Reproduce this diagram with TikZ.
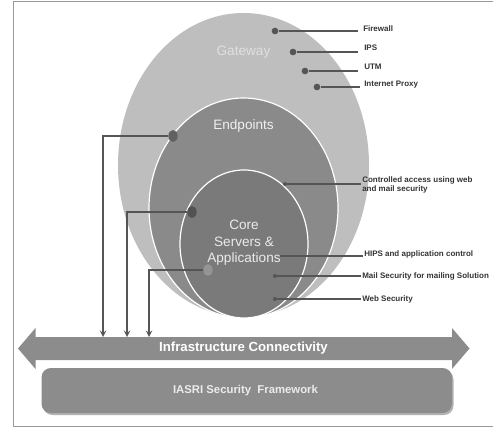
\documentclass[tikz,border=0pt]{standalone}
\usepackage{fontspec}
\setmainfont{Liberation Sans}
\usetikzlibrary{arrows,shapes.geometric}

\definecolor{gwfill}{RGB}{190,190,190}
\definecolor{epfill}{RGB}{138,138,138}
\definecolor{corefill}{RGB}{122,122,122}
\definecolor{barfill}{RGB}{140,140,140}
\definecolor{leader}{RGB}{85,85,85}

\tikzset{
  dot/.style={circle,fill=leader,inner sep=0pt,minimum size=5pt},
  bigdot/.style={ellipse,fill=leader,inner sep=0pt,minimum width=7pt,minimum height=9pt},
  tag/.style={anchor=west,inner sep=0.75pt,font=\fontsize{6}{7}\selectfont\bfseries,text=black!80,align=left},
  leadline/.style={draw=leader,line width=1.1pt},
  drop/.style={draw=leader,line width=1.1pt,-stealth},
  ringtext/.style={inner sep=0.75pt,align=center,font=\fontsize{10.2}{12.4}\selectfont}
}

\begin{document}
\begin{tikzpicture}[x=0.75pt,y=0.75pt,yscale=-1,xscale=1]
\useasboundingbox (0,0) rectangle (493,428);

%Shape: Frame
\begin{scope}
\clip (0,0) rectangle (493,428);
\draw [draw=black!40,line width=1pt] (13.5,1.5) rectangle (500,426.5);
\end{scope}

%Shape: Ellipse Gateway
\draw [fill=gwfill,draw=none] (243.5,165) ellipse (125.5 and 152);
%Shape: Ellipse Endpoints
\draw [fill=epfill,draw=white,line width=0.9pt] (243.5,208) ellipse (94.5 and 110);
%Shape: Ellipse Core
\draw [fill=corefill,draw=white,line width=0.9pt] (244,244) ellipse (64 and 74);

% Text Node
\node [ringtext,text=black!12] (gateway) at (243.5,52) {Gateway};
% Text Node
\node [ringtext,text=black!6] (endpoints) at (243.5,126) {Endpoints};
% Text Node
\node [ringtext,text=black!8] (core) at (244,243) {Core\\Servers \&\\Applications};

%Shape: Double Arrow
\draw [fill=barfill,draw=none] (18,348.5) -- (35.5,328) -- (35.5,337) -- (452,337) -- (452,328) -- (469.5,348.5) -- (452,369) -- (452,360) -- (35.5,360) -- (35.5,369) -- cycle;
% Text Node
\node [inner sep=0.75pt,text=white,font=\fontsize{9.9}{12}\selectfont\bfseries] (infra) at (243.5,348.5) {Infrastructure Connectivity};

%Shape: Rounded Box
\draw [fill=black!30,draw=none,rounded corners=7pt] (43,370) rectangle (453.5,415);
\draw [fill=barfill,draw=none,rounded corners=7pt] (41.5,368) rectangle (452,413);
% Text Node
\node [inner sep=0.75pt,text=black!8,font=\fontsize{8.5}{10}\selectfont\bfseries] (iasri) at (245.5,390.5) {IASRI Security\ \ Framework};

% Leader dots (right)
\node [dot] (dFire) at (275,31) {};
\node [dot] (dIps) at (293,52) {};
\node [dot] (dUtm) at (305,71) {};
\node [dot] (dProxy) at (317,87) {};
\node [dot,minimum size=3pt] (dCtrl) at (285,184) {};
\coordinate (dHips) at (280,256);
\node [dot,minimum size=3pt] (dMail) at (275,276) {};
\node [dot,minimum size=3pt] (dWeb) at (275,299) {};

% Text Node
\node [tag] (lFire) at (362,29) {Firewall};
\node [tag] (lIps) at (363,48) {IPS};
\node [tag] (lUtm) at (363,67) {UTM};
\node [tag] (lProxy) at (363,85) {Internet Proxy};
\node [tag,anchor=north west] (lCtrl) at (361,175) {Controlled access using web\\and mail security};
\node [tag] (lHips) at (363,254) {HIPS and application control};
\node [tag] (lMail) at (361,276) {Mail Security for mailing Solution};
\node [tag] (lWeb) at (361,299) {Web Security};

%Straight Lines
\draw [leadline] (dFire) -- (358,31);
\draw [leadline] (dIps) -- (358,52);
\draw [leadline] (dUtm) -- (358,71);
\draw [leadline] (dProxy) -- (360,87);
\draw [leadline] (dCtrl) -- (lCtrl.north west |- dCtrl);
\draw [leadline] (dHips) -- (lHips.west |- dHips);
\draw [leadline] (dMail) -- (lMail.west);
\draw [leadline] (dWeb) -- (lWeb.west);

% Leader dots (left)
\node [bigdot,fill=black!62] (dEnd) at (173,136) {};
\node [bigdot,fill=black!68] (dCore) at (192,212) {};
\node [bigdot,fill=black!42] (dApp) at (208,270) {};

% Drop arrows to the bar
\coordinate (aEnd) at (103,337);
\coordinate (aCore) at (127,337);
\coordinate (aApp) at (149,337);
\draw [drop] (dEnd) -| (aEnd);
\draw [drop] (dCore) -| (aCore);
\draw [drop] (dApp) -| (aApp);

\end{tikzpicture}
\end{document}
